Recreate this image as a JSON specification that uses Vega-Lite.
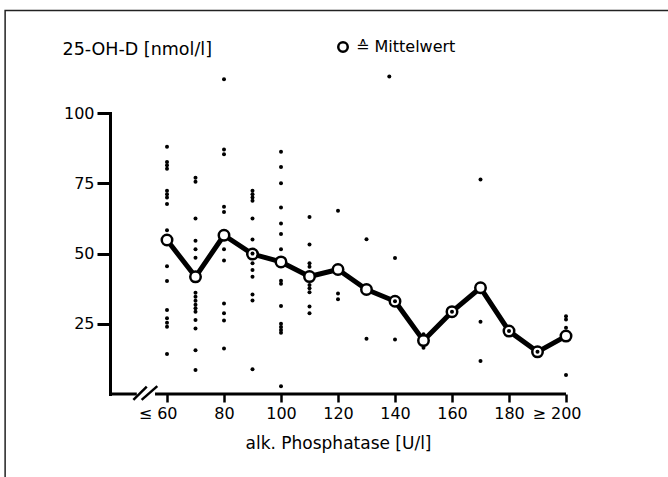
{
  "$schema": "https://vega.github.io/schema/vega-lite/v6.json",
  "width": 456,
  "height": 281,
  "autosize": {"type": "none"},
  "padding": {"left": 110, "top": 113, "right": 102, "bottom": 83},
  "background": "white",
  "config": {"view": {"stroke": null}, "font": "DejaVu Sans"},
  "datasets": {
    "points": [
      {"alp": 60, "ohd": 88}, {"alp": 60, "ohd": 82.6}, {"alp": 60, "ohd": 81.4}, {"alp": 60, "ohd": 80.2},
      {"alp": 60, "ohd": 72.3}, {"alp": 60, "ohd": 71.1}, {"alp": 60, "ohd": 69.9}, {"alp": 60, "ohd": 67.6},
      {"alp": 60, "ohd": 58.3}, {"alp": 60, "ohd": 45.5}, {"alp": 60, "ohd": 40.2}, {"alp": 60, "ohd": 29.9},
      {"alp": 60, "ohd": 27}, {"alp": 60, "ohd": 25.4}, {"alp": 60, "ohd": 23.9}, {"alp": 60, "ohd": 14.2},
      {"alp": 70, "ohd": 77}, {"alp": 70, "ohd": 75.5}, {"alp": 70, "ohd": 62.5}, {"alp": 70, "ohd": 54.5},
      {"alp": 70, "ohd": 51.5}, {"alp": 70, "ohd": 48.5}, {"alp": 70, "ohd": 36}, {"alp": 70, "ohd": 34.6},
      {"alp": 70, "ohd": 33.2}, {"alp": 70, "ohd": 31.8}, {"alp": 70, "ohd": 30.5}, {"alp": 70, "ohd": 29.3},
      {"alp": 70, "ohd": 26.3}, {"alp": 70, "ohd": 23.3}, {"alp": 70, "ohd": 15.6}, {"alp": 70, "ohd": 8.5},
      {"alp": 80, "ohd": 112}, {"alp": 80, "ohd": 87}, {"alp": 80, "ohd": 85.3}, {"alp": 80, "ohd": 66.6},
      {"alp": 80, "ohd": 64.8}, {"alp": 80, "ohd": 51.5}, {"alp": 80, "ohd": 47.5}, {"alp": 80, "ohd": 32.2},
      {"alp": 80, "ohd": 28.7}, {"alp": 80, "ohd": 26.2}, {"alp": 80, "ohd": 16.2},
      {"alp": 90, "ohd": 72.3}, {"alp": 90, "ohd": 71.1}, {"alp": 90, "ohd": 69.9}, {"alp": 90, "ohd": 68.8},
      {"alp": 90, "ohd": 62.5}, {"alp": 90, "ohd": 55}, {"alp": 90, "ohd": 50}, {"alp": 90, "ohd": 46.5},
      {"alp": 90, "ohd": 44.1}, {"alp": 90, "ohd": 41.7}, {"alp": 90, "ohd": 35.4}, {"alp": 90, "ohd": 33.3},
      {"alp": 90, "ohd": 8.8},
      {"alp": 100, "ohd": 86.2}, {"alp": 100, "ohd": 80.8}, {"alp": 100, "ohd": 75}, {"alp": 100, "ohd": 66.4},
      {"alp": 100, "ohd": 60.7}, {"alp": 100, "ohd": 56.9}, {"alp": 100, "ohd": 51.5}, {"alp": 100, "ohd": 40.3},
      {"alp": 100, "ohd": 39.2}, {"alp": 100, "ohd": 31.3}, {"alp": 100, "ohd": 25}, {"alp": 100, "ohd": 23.8},
      {"alp": 100, "ohd": 22.8}, {"alp": 100, "ohd": 21.8}, {"alp": 100, "ohd": 2.8},
      {"alp": 110, "ohd": 63}, {"alp": 110, "ohd": 53.2}, {"alp": 110, "ohd": 46.5}, {"alp": 110, "ohd": 45.3},
      {"alp": 110, "ohd": 38.8}, {"alp": 110, "ohd": 37.6}, {"alp": 110, "ohd": 36.2}, {"alp": 110, "ohd": 31.1},
      {"alp": 110, "ohd": 28.7},
      {"alp": 120, "ohd": 65.2}, {"alp": 120, "ohd": 35.8}, {"alp": 120, "ohd": 33.7},
      {"alp": 130, "ohd": 55.1}, {"alp": 130, "ohd": 19.7},
      {"alp": 138, "ohd": 113},
      {"alp": 140, "ohd": 48.4}, {"alp": 140, "ohd": 33}, {"alp": 140, "ohd": 19.4},
      {"alp": 150, "ohd": 21.3}, {"alp": 150, "ohd": 16.5},
      {"alp": 160, "ohd": 29.3},
      {"alp": 170, "ohd": 76.3}, {"alp": 170, "ohd": 25.7}, {"alp": 170, "ohd": 11.7},
      {"alp": 180, "ohd": 22.4},
      {"alp": 190, "ohd": 15},
      {"alp": 200, "ohd": 27.7}, {"alp": 200, "ohd": 26.5}, {"alp": 200, "ohd": 23.6}, {"alp": 200, "ohd": 6.8}
    ],
    "means": [
      {"alp": 60, "ohd": 54.8}, {"alp": 70, "ohd": 41.7}, {"alp": 80, "ohd": 56.5}, {"alp": 90, "ohd": 49.8},
      {"alp": 100, "ohd": 47}, {"alp": 110, "ohd": 41.8}, {"alp": 120, "ohd": 44.3}, {"alp": 130, "ohd": 37.2},
      {"alp": 140, "ohd": 33}, {"alp": 150, "ohd": 19}, {"alp": 160, "ohd": 29.3}, {"alp": 170, "ohd": 37.8},
      {"alp": 180, "ohd": 22.4}, {"alp": 190, "ohd": 15}, {"alp": 200, "ohd": 20.6}
    ],
    "one": [{}]
  },
  "layer": [
    {
      "data": {"name": "one"},
      "mark": {"type": "rect", "fill": null, "stroke": "#222", "strokeWidth": 1.5, "clip": false},
      "encoding": {
        "x": {"datum": 3.2, "type": "quantitative", "scale": {"domain": [40, 200], "nice": false, "zero": false}},
        "x2": {"datum": 260},
        "y": {"datum": 136.5, "type": "quantitative", "scale": {"domain": [0, 100], "nice": false}},
        "y2": {"datum": -40}
      }
    },
    {
      "data": {"name": "one"},
      "mark": {"type": "rule", "strokeWidth": 3, "color": "black", "clip": false},
      "encoding": {
        "x": {"datum": 40, "type": "quantitative", "scale": {"domain": [40, 200], "nice": false, "zero": false}},
        "x2": {"datum": 49.4},
        "y": {"datum": 0, "type": "quantitative", "scale": {"domain": [0, 100], "nice": false}}
      }
    },
    {
      "data": {"name": "one"},
      "mark": {"type": "rule", "strokeWidth": 3, "color": "black", "clip": false},
      "encoding": {
        "x": {"datum": 55.8, "type": "quantitative", "scale": {"domain": [40, 200], "nice": false, "zero": false}},
        "x2": {"datum": 200},
        "y": {"datum": 0, "type": "quantitative", "scale": {"domain": [0, 100], "nice": false}}
      }
    },
    {
      "data": {"name": "one"},
      "mark": {"type": "rule", "strokeWidth": 2.5, "color": "black", "clip": false},
      "encoding": {
        "x": {"datum": 48.2, "type": "quantitative", "scale": {"domain": [40, 200], "nice": false, "zero": false}},
        "x2": {"datum": 52.9},
        "y": {"datum": -2.1, "type": "quantitative", "scale": {"domain": [0, 100], "nice": false}},
        "y2": {"datum": 2.6}
      }
    },
    {
      "data": {"name": "one"},
      "mark": {"type": "rule", "strokeWidth": 2.5, "color": "black", "clip": false},
      "encoding": {
        "x": {"datum": 51.1, "type": "quantitative", "scale": {"domain": [40, 200], "nice": false, "zero": false}},
        "x2": {"datum": 56.6},
        "y": {"datum": -2.1, "type": "quantitative", "scale": {"domain": [0, 100], "nice": false}},
        "y2": {"datum": 2.8}
      }
    },
    {
      "data": {"name": "means"},
      "mark": {"type": "line", "color": "black", "strokeWidth": 5, "strokeJoin": "round"},
      "encoding": {
        "x": {"field": "alp", "type": "quantitative", "scale": {"domain": [40, 200], "nice": false, "zero": false}},
        "y": {"field": "ohd", "type": "quantitative", "scale": {"domain": [0, 100], "nice": false}}
      }
    },
    {
      "data": {"name": "means"},
      "mark": {"type": "point", "shape": "circle", "filled": false, "fill": "white", "fillOpacity": 1, "strokeWidth": 2.5, "size": 110, "opacity": 1},
      "encoding": {
        "x": {"field": "alp", "type": "quantitative", "scale": {"domain": [40, 200], "nice": false, "zero": false}},
        "y": {"field": "ohd", "type": "quantitative", "scale": {"domain": [0, 100], "nice": false}},
        "stroke": {
          "datum": "≙ Mittelwert",
          "type": "nominal",
          "scale": {"range": ["black"]},
          "legend": {
            "orient": "none", "legendX": 225, "legendY": -74, "title": null, "padding": 0,
            "labelFontSize": 16, "labelFont": "DejaVu Sans", "labelColor": "black", "labelOffset": 5,
            "symbolType": "circle", "symbolFillColor": "white", "symbolStrokeColor": "black",
            "symbolStrokeWidth": 2.5, "symbolSize": 90, "symbolOpacity": 1
          }
        }
      }
    },
    {
      "data": {"name": "points"},
      "mark": {"type": "circle", "size": 16, "color": "black", "opacity": 1, "clip": false},
      "encoding": {
        "x": {
          "field": "alp", "type": "quantitative",
          "scale": {"domain": [40, 200], "nice": false, "zero": false},
          "axis": {
            "values": [60, 70, 80, 90, 100, 110, 120, 130, 140, 150, 160, 170, 180, 190, 200],
            "domain": false, "grid": false,
            "tickColor": "black", "tickWidth": 2.5,
            "tickSize": {"condition": {"test": "datum.value % 20 == 0", "value": 8}, "value": 5},
            "labelExpr": "datum.value == 60 ? '≤ 60' : datum.value == 200 ? '≥ 200' : (datum.value % 20 == 0 ? datum.label : '')",
            "labelAlign": {"condition": {"test": "datum.value == 60 || datum.value == 200", "value": "right"}, "value": "center"},
            "labelOffset": {"condition": [{"test": "datum.value == 60", "value": 10}, {"test": "datum.value == 200", "value": 15}], "value": 0},
            "labelFlush": false, "labelOverlap": false, "labelBound": false,
            "labelFontSize": 16, "labelColor": "black", "labelPadding": 3,
            "title": "alk. Phosphatase [U/l]", "titleFontSize": 17, "titleFontWeight": "normal",
            "titleColor": "black", "titlePadding": 14
          }
        },
        "y": {
          "field": "ohd", "type": "quantitative",
          "scale": {"domain": [0, 100], "nice": false},
          "axis": {
            "values": [25, 50, 75, 100],
            "domain": true, "domainColor": "black", "domainWidth": 3, "domainCap": "square",
            "grid": false, "tickColor": "black", "tickWidth": 3, "tickSize": 13,
            "labelFontSize": 16, "labelColor": "black", "labelPadding": 3,
            "labelFlush": false, "labelOverlap": false,
            "title": "25-OH-D [nmol/l]", "titleAngle": 0, "titleAlign": "left", "titleBaseline": "middle",
            "titleX": -48, "titleY": -64, "titleFontSize": 17.5, "titleFontWeight": "normal", "titleColor": "black"
          }
        }
      }
    }
  ]
}
